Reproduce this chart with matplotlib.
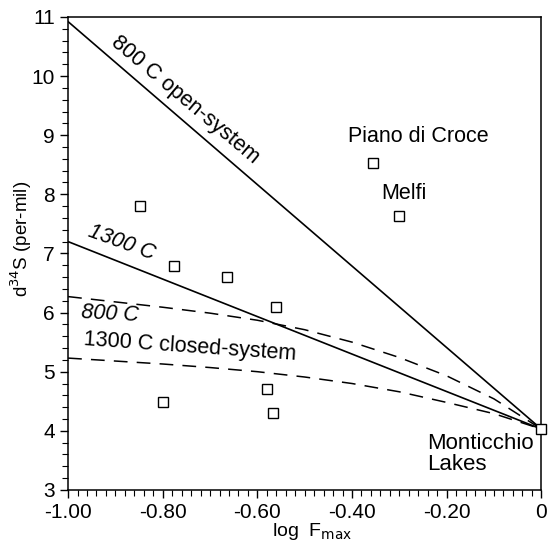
import matplotlib
matplotlib.use("Agg")
import matplotlib.pyplot as plt
from matplotlib.ticker import MultipleLocator, FuncFormatter

plt.rcParams['font.family'] = ['Liberation Sans', 'DejaVu Sans']

# sample points (log Fmax, d34S)
samp_x = [-0.848, -0.776, -0.664, -0.560, -0.800, -0.580, -0.567, -0.355, -0.300, 0.0]
samp_y = [7.80, 6.79, 6.60, 6.09, 4.48, 4.71, 4.30, 8.53, 7.63, 4.03]

# open-system lines
open_x = [-1.0, 0.0]
open800_y = [10.92, 4.03]
open1300_y = [7.20, 4.03]

# closed-system curves
closed_x = [-1.0, -0.9, -0.8, -0.7, -0.6, -0.5, -0.4, -0.3, -0.2, -0.1, 0.0]
closed800_y = [6.27, 6.18, 6.09, 5.99, 5.87, 5.71, 5.50, 5.24, 4.93, 4.54, 4.03]
closed1300_y = [5.23, 5.18, 5.13, 5.07, 5.00, 4.91, 4.80, 4.66, 4.48, 4.29, 4.03]

fig = plt.figure(figsize=(5.49, 5.45), dpi=100)
ax = fig.add_axes([0.124, 0.101, 0.862, 0.868])

ax.plot(open_x, open800_y, color='black', lw=1.2)
ax.plot(open_x, open1300_y, color='black', lw=1.2)
ax.plot(closed_x, closed800_y, color='black', lw=1.1, dashes=(9, 6))
ax.plot(closed_x, closed1300_y, color='black', lw=1.1, dashes=(9, 6))
ax.plot(samp_x, samp_y, 's', ms=7.5, mfc='white', mec='black', mew=1.0,
        clip_on=False, zorder=5)

ax.set_xlim(-1.0, 0.0)
ax.set_ylim(3, 11)
ax.xaxis.set_major_locator(MultipleLocator(0.2))
ax.xaxis.set_minor_locator(MultipleLocator(0.02))
ax.yaxis.set_major_locator(MultipleLocator(1))
ax.yaxis.set_minor_locator(MultipleLocator(0.2))
ax.xaxis.set_major_formatter(FuncFormatter(lambda v, p: '0' if abs(v) < 1e-9 else '%.2f' % v))
ax.tick_params(which='both', direction='out', top=False, right=False, labelsize=15)
ax.tick_params(which='major', length=6, width=1.0)
ax.tick_params(which='minor', length=4, width=0.8)
for s in ax.spines.values():
    s.set_linewidth(1.1)

ax.set_xlabel('log  F$_{\\mathrm{max}}$', fontsize=14)
ax.xaxis.set_label_coords(0.515, -0.066)
ax.set_ylabel('d$^{34}$S (per-mil)', fontsize=13.5)
ax.yaxis.set_label_coords(-0.072, 0.53)

fs = 15.5
ax.text(-0.753, 9.6, '800 C open-system', fontsize=fs, rotation=-40,
        ha='center', va='center')
ax.text(-0.886, 7.18, '1300 C', fontsize=fs, rotation=-20, style='italic',
        ha='center', va='center')
ax.text(-0.911, 5.97, '800 C', fontsize=fs, rotation=-3, style='italic',
        ha='center', va='center')
ax.text(-0.742, 5.42, '1300 C closed-system', fontsize=fs, rotation=-4,
        ha='center', va='center')
ax.text(-0.26, 8.97, 'Piano di Croce', fontsize=fs, ha='center', va='center')
ax.text(-0.29, 8.02, 'Melfi', fontsize=fs, ha='center', va='center')
ax.text(-0.241, 3.96, 'Monticchio\nLakes', fontsize=16, ha='left', va='top',
        linespacing=1.0)

fig.savefig('out.png', dpi=100)
